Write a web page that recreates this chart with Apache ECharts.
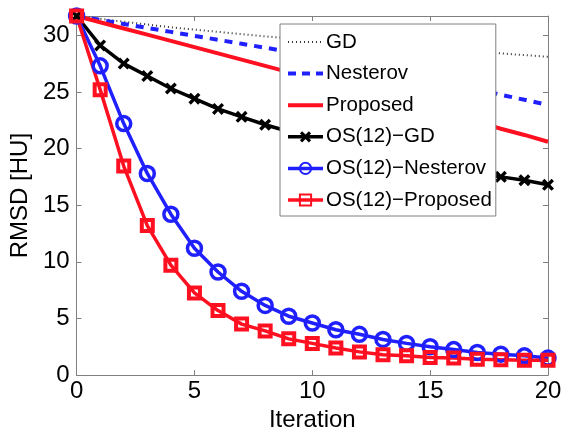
<!DOCTYPE html>
<html><head><meta charset="utf-8">
<script src="https://cdn.jsdelivr.net/npm/echarts@6/dist/echarts.min.js"></script>
<style>html,body{margin:0;padding:0;background:#fff}#c{width:565px;height:437px}</style>
</head><body><div id="c"></div>
<script>
const iterations = [0,1,2,3,4,5,6,7,8,9,10,11,12,13,14,15,16,17,18,19,20];
const gd = [31.7,31.45,31.2,30.95,30.7,30.5,30.3,30.1,29.9,29.75,29.6,29.45,29.3,29.15,29.0,28.85,28.7,28.55,28.4,28.25,28.1];
const nesterov = [31.7,31.35,31.0,30.65,30.3,29.95,29.6,29.25,28.9,28.55,28.2,27.8,27.4,27.0,26.6,26.15,25.7,25.25,24.75,24.3,23.85];
const proposed = [31.7,31.15,30.6,30.05,29.5,28.95,28.4,27.85,27.3,26.75,26.2,25.65,25.1,24.55,24.0,23.45,22.9,22.35,21.75,21.2,20.6];
const osGd = [31.7,29.1,27.5,26.4,25.3,24.4,23.5,22.8,22.1,21.5,20.9,20.4,19.9,19.4,18.9,18.5,18.1,17.8,17.5,17.2,16.8];
const osNesterov = [31.7,27.3,22.2,17.8,14.2,11.2,9.1,7.4,6.15,5.2,4.6,4.0,3.6,3.15,2.8,2.5,2.25,2.0,1.85,1.7,1.5];
const osProposed = [31.7,25.2,18.45,13.2,9.7,7.25,5.7,4.5,3.9,3.2,2.8,2.4,2.05,1.8,1.7,1.55,1.5,1.4,1.35,1.3,1.3];
const names = ['GD','Nesterov','Proposed','OS(12)\u2212GD','OS(12)\u2212Nesterov','OS(12)\u2212Proposed'];
const xTicks = {min:0,max:20,interval:5};
const yTicks = {min:0,max:31.7,interval:5};

const pair = arr => arr.map((v,i)=>[iterations[i],v]);
const RED = '#ff1020', BLUE = '#2020ff';
const font = 'Liberation Sans, Arial, Helvetica, sans-serif';
const axisCommon = (extra) => Object.assign({
  type:'value', splitLine:{show:false},
  axisLine:{show:true,onZero:false,lineStyle:{color:'#808080',width:1}},
  axisTick:{show:true,inside:true,length:5,lineStyle:{color:'#808080'}},
}, extra);
const labelFmt = v => (Math.abs(v/5 - Math.round(v/5))<1e-9) ? String(v) : '';
const xSym = 'path://M2,0 L5,3 L8,0 L10,2 L7,5 L10,8 L8,10 L5,7 L2,10 L0,8 L3,5 L0,2 Z';

const legendData = [
  {name:names[0],itemStyle:{opacity:0},lineStyle:{width:2,type:[1,3],color:'#333'}},
  {name:names[1],itemStyle:{opacity:0},lineStyle:{width:4,type:[8,6],color:BLUE}},
  {name:names[2],itemStyle:{opacity:0},lineStyle:{width:4,color:RED}},
  {name:names[3],lineStyle:{width:3.5}},
  {name:names[4],lineStyle:{width:3.5}},
  {name:names[5],lineStyle:{width:3.5}}
];

const chart = echarts.init(document.getElementById('c'));
chart.setOption({
  animation:false,
  backgroundColor:'#fff',
  grid:{left:73,right:17,top:16,bottom:55,containLabel:false},
  xAxis:[
    axisCommon(Object.assign({position:'bottom',name:'Iteration',nameLocation:'middle',nameGap:31,
      nameTextStyle:{color:'#000',fontSize:24,fontFamily:font},
      axisLabel:{color:'#000',fontSize:24,fontFamily:font,margin:4,formatter:labelFmt}},xTicks)),
    axisCommon(Object.assign({position:'top',axisLabel:{show:false}},xTicks))
  ],
  yAxis:[
    axisCommon(Object.assign({position:'left',name:'RMSD [HU]',nameLocation:'middle',nameGap:38,
      nameTextStyle:{color:'#000',fontSize:24,fontFamily:font},
      axisLabel:{color:'#000',fontSize:24,fontFamily:font,margin:7,formatter:labelFmt,showMaxLabel:false}},yTicks)),
    axisCommon(Object.assign({position:'right',axisLabel:{show:false}},yTicks))
  ],
  legend:{
    orient:'vertical',left:280,top:24,
    itemWidth:35,itemHeight:14,itemGap:9.6,
    padding:[7,4,5,6],
    backgroundColor:'#fff',borderColor:'#808080',borderWidth:1,
    textStyle:{color:'#000',fontSize:20.5,fontFamily:font,lineHeight:22,padding:[0,0,0,-2]},
    data:legendData
  },
  series:[
    {name:names[0],type:'line',data:pair(gd),showSymbol:false,symbol:'none',
      lineStyle:{color:'#333',width:2,type:[1,3]},itemStyle:{color:'#333'},z:2},
    {name:names[1],type:'line',data:pair(nesterov),showSymbol:false,symbol:'none',
      lineStyle:{color:BLUE,width:4,type:[8,7]},itemStyle:{color:BLUE},z:2},
    {name:names[2],type:'line',data:pair(proposed),showSymbol:false,symbol:'none',
      lineStyle:{color:RED,width:4},itemStyle:{color:RED},z:2},
    {name:names[3],type:'line',data:pair(osGd),symbol:xSym,symbolSize:12,
      lineStyle:{color:'#000',width:3.5},itemStyle:{color:'#000'},z:3},
    {name:names[4],type:'line',data:pair(osNesterov),symbol:'circle',symbolSize:14,
      lineStyle:{color:BLUE,width:3.5},itemStyle:{color:'rgba(0,0,0,0)',borderColor:BLUE,borderWidth:3.5},z:3},
    {name:names[5],type:'line',data:pair(osProposed),symbol:'rect',symbolSize:11,
      lineStyle:{color:RED,width:3.5},itemStyle:{color:'rgba(0,0,0,0)',borderColor:RED,borderWidth:4},z:3}
  ]
});
</script></body></html>
